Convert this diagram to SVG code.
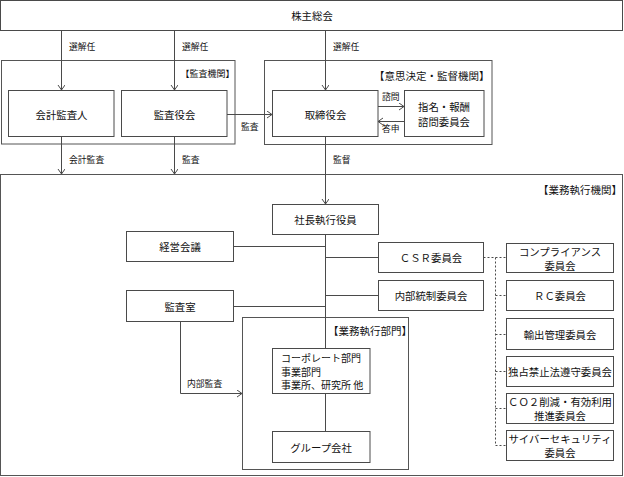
<svg xmlns="http://www.w3.org/2000/svg" width="624" height="477" viewBox="0 0 624 477">
<style>
.box{fill:#fff;stroke:#4a4a4a;stroke-width:1}
.frame{fill:none;stroke:#555;stroke-width:1}
.ln{fill:none;stroke:#4a4a4a;stroke-width:1}
.dot{fill:none;stroke:#4a4a4a;stroke-width:1;stroke-dasharray:2,2}
text{font-family:"Noto Sans CJK JP","Noto Sans CJK SC",sans-serif;fill:#111;dominant-baseline:central}
.t{font-size:10.4px;text-anchor:middle}
.s{font-size:10px;text-anchor:start}
.l{font-size:8.8px}
.h{font-size:10.5px;text-anchor:end}
.hs{font-size:9px;text-anchor:end}
</style>
<defs>
<marker id="ar" markerWidth="8" markerHeight="8" refX="5" refY="3.5" orient="auto" markerUnits="userSpaceOnUse">
<path d="M0,0 L5,3.5 L0,7" fill="none" stroke="#4a4a4a" stroke-width="1"/>
</marker>
</defs>
<rect width="624" height="477" fill="#fff"/>

<g id="frames">
<rect class="frame" x="1.5" y="60.5" width="233.5" height="83.5"/>
<text class="hs" x="234.5" y="73">【監査機関】</text>
<rect class="frame" x="264.5" y="60.5" width="227.5" height="84"/>
<text class="h" x="489.5" y="75.5">【意思決定・監督機関】</text>
<rect class="frame" x="0.5" y="174.5" width="622" height="301"/>
<text class="h" x="622" y="189">【業務執行機関】</text>
<rect class="frame" x="242.5" y="317.5" width="166" height="152"/>
<text class="h" x="412" y="330">【業務執行部門】</text>
</g>

<g id="connectors">
<path class="ln" d="M61.5,30.5V90" marker-end="url(#ar)"/>
<path class="ln" d="M174.5,30.5V90" marker-end="url(#ar)"/>
<path class="ln" d="M325.5,30.5V90" marker-end="url(#ar)"/>
<path class="ln" d="M227,114.5H272" marker-end="url(#ar)"/>
<path class="ln" d="M378,106.5H404" marker-end="url(#ar)"/>
<path class="ln" d="M404,121.5H378" marker-end="url(#ar)"/>
<path class="ln" d="M61.5,136.5V174" marker-end="url(#ar)"/>
<path class="ln" d="M174.5,136.5V174" marker-end="url(#ar)"/>
<path class="ln" d="M325.5,136.5V204" marker-end="url(#ar)"/>
<path class="ln" d="M325.5,234.5V348.5"/>
<path class="ln" d="M233.5,246.5H325.5"/>
<path class="ln" d="M325.5,257.5H378.5"/>
<path class="ln" d="M325.5,295.5H378.5"/>
<path class="ln" d="M233.5,306.5H325.5"/>
<path class="ln" d="M180.5,321.5V393.5H242" marker-end="url(#ar)"/>
<path class="ln" d="M325.5,393.5V431.5"/>
<path class="dot" d="M483.5,257.5H506.5"/>
<path class="dot" d="M495.5,257.5V445.5"/>
<path class="dot" d="M495.5,295.5H506.5M495.5,334.5H506.5M495.5,371.5H506.5M495.5,408.5H506.5M495.5,445.5H506.5"/>
<text class="l" x="69" y="46">選解任</text>
<text class="l" x="182" y="46">選解任</text>
<text class="l" x="333" y="46">選解任</text>
<text class="l" x="241" y="126">監査</text>
<text class="l" x="382" y="96">諮問</text>
<text class="l" x="382" y="128">答申</text>
<text class="l" x="69" y="159">会計監査</text>
<text class="l" x="182" y="159">監査</text>
<text class="l" x="333" y="159">監督</text>
<text class="l" x="187" y="383">内部監査</text>
</g>

<g id="n-kabunushi"><rect class="box" x="0.5" y="0.5" width="622" height="30"/><text class="t" x="312" y="15.5">株主総会</text></g>
<g id="n-kaikei"><rect class="box" x="8.5" y="90.5" width="105.5" height="46"/><text class="t" x="61.5" y="114">会計監査人</text></g>
<g id="n-kansayaku"><rect class="box" x="121.5" y="90.5" width="105.5" height="46"/><text class="t" x="174.5" y="114">監査役会</text></g>
<g id="n-torishimari"><rect class="box" x="272.5" y="90.5" width="105.5" height="46"/><text class="t" x="325.5" y="114">取締役会</text></g>
<g id="n-shimei"><rect class="box" x="404.5" y="90.5" width="79.5" height="46"/><text class="t" x="444" y="106.5">指名・報酬</text><text class="t" x="444" y="121">諮問委員会</text></g>
<g id="n-shacho"><rect class="box" x="272.5" y="204.5" width="106" height="30"/><text class="t" x="325.5" y="219.5">社長執行役員</text></g>
<g id="n-keiei"><rect class="box" x="126.5" y="231.5" width="107" height="30"/><text class="t" x="180" y="246.5">経営会議</text></g>
<g id="n-csr"><rect class="box" x="378.5" y="242.5" width="105" height="30"/><text class="t" x="431" y="257.5">ＣＳＲ委員会</text></g>
<g id="n-naibu"><rect class="box" x="378.5" y="280.5" width="105" height="30"/><text class="t" x="431" y="295.5">内部統制委員会</text></g>
<g id="n-kansashitsu"><rect class="box" x="126.5" y="290.5" width="107" height="31"/><text class="t" x="180" y="306">監査室</text></g>
<g id="n-corporate"><rect class="box" x="272.5" y="348.5" width="97.5" height="45"/>
<text class="s" x="281" y="357.5">コーポレート部門</text>
<text class="s" x="281" y="371">事業部門</text>
<text class="s" x="281" y="384.5">事業所、研究所 他</text></g>
<g id="n-group"><rect class="box" x="272.5" y="431.5" width="97.5" height="31"/><text class="t" x="321" y="447">グループ会社</text></g>
<g id="n-compliance"><rect class="box" x="506.5" y="243.5" width="107" height="29"/><text class="t" x="560" y="251.5">コンプライアンス</text><text class="t" x="560" y="265">委員会</text></g>
<g id="n-rc"><rect class="box" x="506.5" y="280.5" width="107" height="30"/><text class="t" x="560" y="295.5">ＲＣ委員会</text></g>
<g id="n-yushutsu"><rect class="box" x="506.5" y="318.5" width="107" height="31"/><text class="t" x="560" y="334">輸出管理委員会</text></g>
<g id="n-dokkin"><rect class="box" x="506.5" y="356.5" width="107" height="30"/><text class="t" x="560" y="371.5">独占禁止法遵守委員会</text></g>
<g id="n-co2"><rect class="box" x="506.5" y="393.5" width="107" height="30"/><text class="t" x="560" y="401.5">ＣＯ２削減・有効利用</text><text class="t" x="560" y="415">推進委員会</text></g>
<g id="n-cyber"><rect class="box" x="506.5" y="430.5" width="107" height="30"/><text class="t" x="560" y="438.5">サイバーセキュリティ</text><text class="t" x="560" y="452">委員会</text></g>
</svg>
